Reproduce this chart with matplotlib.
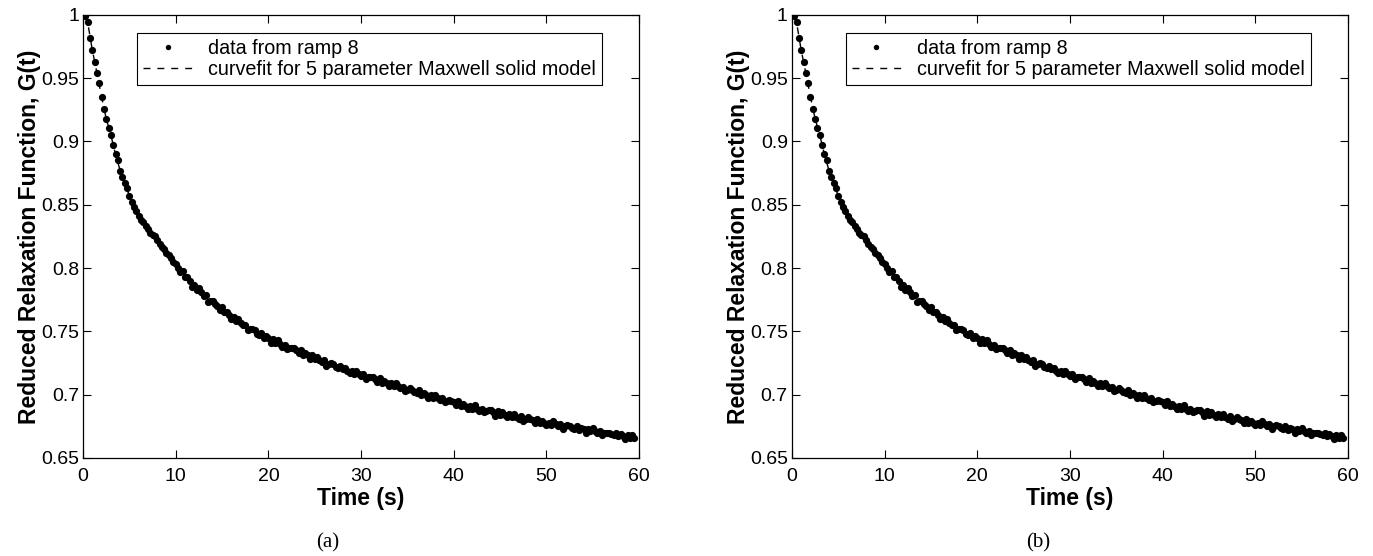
import matplotlib.pyplot as plt
import numpy as np
from matplotlib.ticker import FuncFormatter

# relaxation data from ramp 8, one sample every 0.25 s
sample_step = 0.25
g_data = [
    1.000, 0.999, 0.994, 0.982,
    0.972, 0.963, 0.954, 0.946,
    0.935, 0.926, 0.918, 0.911,
    0.905, 0.897, 0.890, 0.885,
    0.877, 0.872, 0.867, 0.863,
    0.857, 0.852, 0.848, 0.845,
    0.841, 0.838, 0.836, 0.833,
    0.831, 0.828, 0.826, 0.825,
    0.822, 0.819, 0.817, 0.815,
    0.812, 0.810, 0.808, 0.805,
    0.803, 0.800, 0.797, 0.798,
    0.793, 0.793, 0.790, 0.785,
    0.787, 0.783, 0.784, 0.781,
    0.778, 0.779, 0.773, 0.774,
    0.774, 0.772, 0.770, 0.767,
    0.769, 0.765, 0.765, 0.763,
    0.760, 0.761, 0.758, 0.760,
    0.757, 0.755, 0.755, 0.751,
    0.752, 0.752, 0.751, 0.748,
    0.747, 0.749, 0.745, 0.746,
    0.745, 0.741, 0.744, 0.741,
    0.743, 0.740, 0.738, 0.739,
    0.736, 0.737, 0.737, 0.737,
    0.735, 0.733, 0.735, 0.731,
    0.733, 0.731, 0.728, 0.731,
    0.728, 0.730, 0.727, 0.726,
    0.727, 0.723, 0.724, 0.725,
    0.724, 0.722, 0.721, 0.723,
    0.720, 0.721, 0.719, 0.717,
    0.719, 0.716, 0.719, 0.716,
    0.715, 0.716, 0.712, 0.714,
    0.714, 0.714, 0.712, 0.710,
    0.713, 0.709, 0.711, 0.709,
    0.707, 0.709, 0.707, 0.709,
    0.707, 0.705, 0.706, 0.703,
    0.704, 0.705, 0.704, 0.702,
    0.701, 0.704, 0.700, 0.701,
    0.700, 0.697, 0.700, 0.697,
    0.700, 0.697, 0.696, 0.697,
    0.694, 0.695, 0.696, 0.695,
    0.694, 0.692, 0.695, 0.691,
    0.693, 0.691, 0.689, 0.691,
    0.689, 0.692, 0.689, 0.687,
    0.689, 0.686, 0.687, 0.688,
    0.688, 0.686, 0.683, 0.687,
    0.684, 0.686, 0.684, 0.682,
    0.685, 0.682, 0.685, 0.682,
    0.681, 0.683, 0.679, 0.681,
    0.682, 0.681, 0.680, 0.678,
    0.681, 0.678, 0.679, 0.678,
    0.676, 0.678, 0.676, 0.679,
    0.677, 0.675, 0.677, 0.673,
    0.675, 0.676, 0.675, 0.674,
    0.673, 0.675, 0.672, 0.674,
    0.673, 0.670, 0.673, 0.671,
    0.674, 0.671, 0.670, 0.671,
    0.668, 0.670, 0.670, 0.670,
    0.669, 0.668, 0.670, 0.667,
    0.669, 0.667, 0.665, 0.668,
    0.666, 0.668, 0.666,
]
t_data = np.arange(len(g_data)) * sample_step

# 5 parameter Maxwell solid curvefit
t_fit = [0, 0.5, 1, 1.5, 2, 2.5, 3, 3.5, 4, 5, 6, 7, 8, 9, 10, 12, 14,
         16, 18, 20, 22, 25, 28, 30, 35, 40, 45, 50, 55, 59.5]
g_fit = [1.000, 0.994, 0.972, 0.954, 0.935, 0.918, 0.905, 0.890, 0.877,
         0.857, 0.841, 0.831, 0.822, 0.812, 0.802, 0.786, 0.773, 0.762,
         0.752, 0.745, 0.738, 0.729, 0.721, 0.716, 0.704, 0.694, 0.685,
         0.678, 0.672, 0.666]

panels = ['(a)', '(b)']
x_ticks = [0, 10, 20, 30, 40, 50, 60]
y_ticks = [0.65, 0.7, 0.75, 0.8, 0.85, 0.9, 0.95, 1]

plt.rcParams['font.family'] = 'Liberation Sans'

fig = plt.figure(figsize=(13.73, 5.56), dpi=100)
lefts = [0.0605, 0.5768]
caption_x = [0.239, 0.756]

for i, name in enumerate(panels):
    ax = fig.add_axes([lefts[i], 0.1763, 0.405, 0.797])
    ax.plot(t_fit, g_fit, 'k', ls=(0, (5, 5)), lw=1, zorder=2,
            label='curvefit for 5 parameter Maxwell solid model')
    ax.plot(t_data, g_data, 'ko', ms=5.2, mew=0, zorder=3,
            label='data from ramp 8')
    ax.set_xlim(0, 60)
    ax.set_ylim(0.65, 1)
    ax.set_xticks(x_ticks)
    ax.set_yticks(y_ticks)
    ax.yaxis.set_major_formatter(FuncFormatter(lambda v, p: '%g' % v))
    ax.tick_params(direction='in', top=True, right=True, length=5.5,
                   width=0.8, labelsize=14, pad=3)
    ax.tick_params(axis='x', pad=7)
    for s in ax.spines.values():
        s.set_linewidth(0.9)
    ax.set_xlabel('Time (s)', fontsize=16.5, fontweight='bold', labelpad=2)
    ax.set_ylabel('Reduced Relaxation Function, G(t)', fontsize=16.5,
                  fontweight='bold', labelpad=0)

    handles, labels = ax.get_legend_handles_labels()
    leg = ax.legend(handles[::-1], labels[::-1], loc='upper left',
                    bbox_to_anchor=(0.097, 0.959), borderaxespad=0,
                    fontsize=14.2, frameon=True, fancybox=False,
                    edgecolor='black', framealpha=1, handlelength=2.5,
                    handletextpad=0.8, borderpad=0.3, labelspacing=0.12,
                    markerscale=0.75)
    leg.get_frame().set_linewidth(0.8)

    fig.text(caption_x[i], 0.023, name, ha='center', va='center',
             fontsize=15, family='Liberation Serif')

fig.savefig('out.png', dpi=100)
